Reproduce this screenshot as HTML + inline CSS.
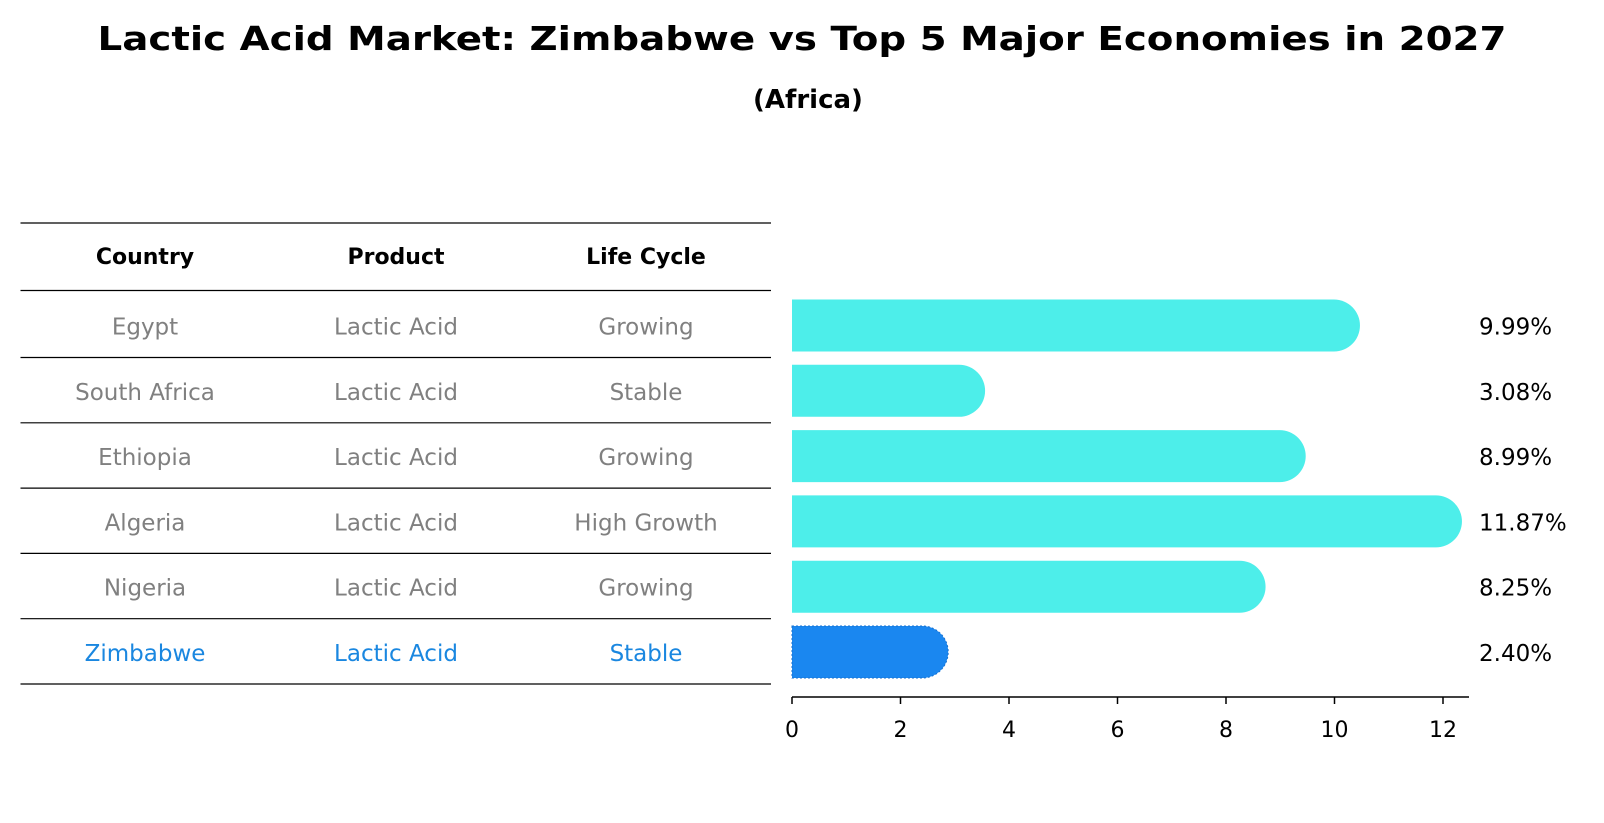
<!DOCTYPE html>
<html><head><meta charset="utf-8"><style>
html,body{margin:0;padding:0;background:#fff;}
svg{display:block;font-family:"DejaVu Sans","Liberation Sans",sans-serif;}
</style></head><body>
<svg id="chart" width="1604" height="823" viewBox="0 0 1604 823">
<text x="802" y="50" text-anchor="middle" font-size="33" font-weight="bold" textLength="1409" lengthAdjust="spacingAndGlyphs">Lactic Acid Market: Zimbabwe vs Top 5 Major Economies in 2027</text>
<text x="808" y="108" text-anchor="middle" font-size="26" font-weight="bold">(Africa)</text>
<g id="table"></g>
<g id="bars"></g>
</svg>
<script>
const countries=["Egypt","South Africa","Ethiopia","Algeria","Nigeria","Zimbabwe"];
const products=["Lactic Acid","Lactic Acid","Lactic Acid","Lactic Acid","Lactic Acid","Lactic Acid"];
const lifeCycles=["Growing","Stable","Growing","High Growth","Growing","Stable"];
const values=[9.99,3.08,8.99,11.87,8.25,2.40];
const ticks=[0,2,4,6,8,10,12];
const NS="http://www.w3.org/2000/svg";
function mk(tag,attrs,parent,text){const e=document.createElementNS(NS,tag);for(const k in attrs)e.setAttribute(k,attrs[k]);if(text!==undefined)e.textContent=text;parent.appendChild(e);return e;}
const x0=792,unit=54.25;
function xs(v){return x0+v*unit;}
const rowY0=325.5,rowStep=65.3;
function ys(i){return rowY0+i*rowStep;}
const tbl=document.getElementById('table');
const lineYs=[223,290.5];
for(let i=0;i<countries.length;i++)lineYs.push(ys(i)+32);
lineYs.forEach(function(y){
 const l=mk('line',{x1:20.5,x2:771,y1:y,y2:y,stroke:'#000','stroke-width':1.2},tbl);
 
 
});
const colX=[145,396,646];
["Country","Product","Life Cycle"].forEach(function(h,j){
 const t=mk('text',{x:colX[j],y:264,'text-anchor':'middle','font-size':22,'font-weight':'bold'},tbl,h);
 
 
});
const n=countries.length;
for(let i=0;i<n;i++){
 const col=i===n-1?'#1a87e0':'#808080';
 [countries[i],products[i],lifeCycles[i]].forEach(function(s,j){
  const t=mk('text',{x:colX[j],y:ys(i)+9,'text-anchor':'middle','font-size':23,fill:col},tbl,s);
  
  
 });
}
const bars=document.getElementById('bars');
const bh=52,r=26;
for(let i=0;i<n;i++){
 const isHL=i===n-1;
 const col=isHL?'#1a87f0':'#4deeea';
 const xe=xs(values[i]);const yt=ys(i)-bh/2;
 const d='M'+x0+','+yt+' L'+xe+','+yt+' A'+r+','+r+' 0 0 1 '+xe+','+(yt+bh)+' L'+x0+','+(yt+bh)+' Z';
 const p=mk('path',{d:d,fill:col},bars);
 if(isHL){p.setAttribute('stroke','#1570d0');p.setAttribute('stroke-dasharray','2,2');p.setAttribute('stroke-width','1');}
 
 
 const t=mk('text',{x:1479,y:ys(i)+9,'font-size':23,fill:'#000'},bars,values[i].toFixed(2)+'%');
 
 
}
const ax=mk('line',{x1:x0,x2:1469,y1:697,y2:697,stroke:'#000','stroke-width':1.5},bars);


ticks.forEach(function(v){
 const tk=mk('line',{x1:xs(v),x2:xs(v),y1:697,y2:704,stroke:'#000','stroke-width':1.5},bars);
 
 
 const tl=mk('text',{x:xs(v),y:737,'text-anchor':'middle','font-size':22},bars,String(v));
 
 
});
</script>
</body></html>
